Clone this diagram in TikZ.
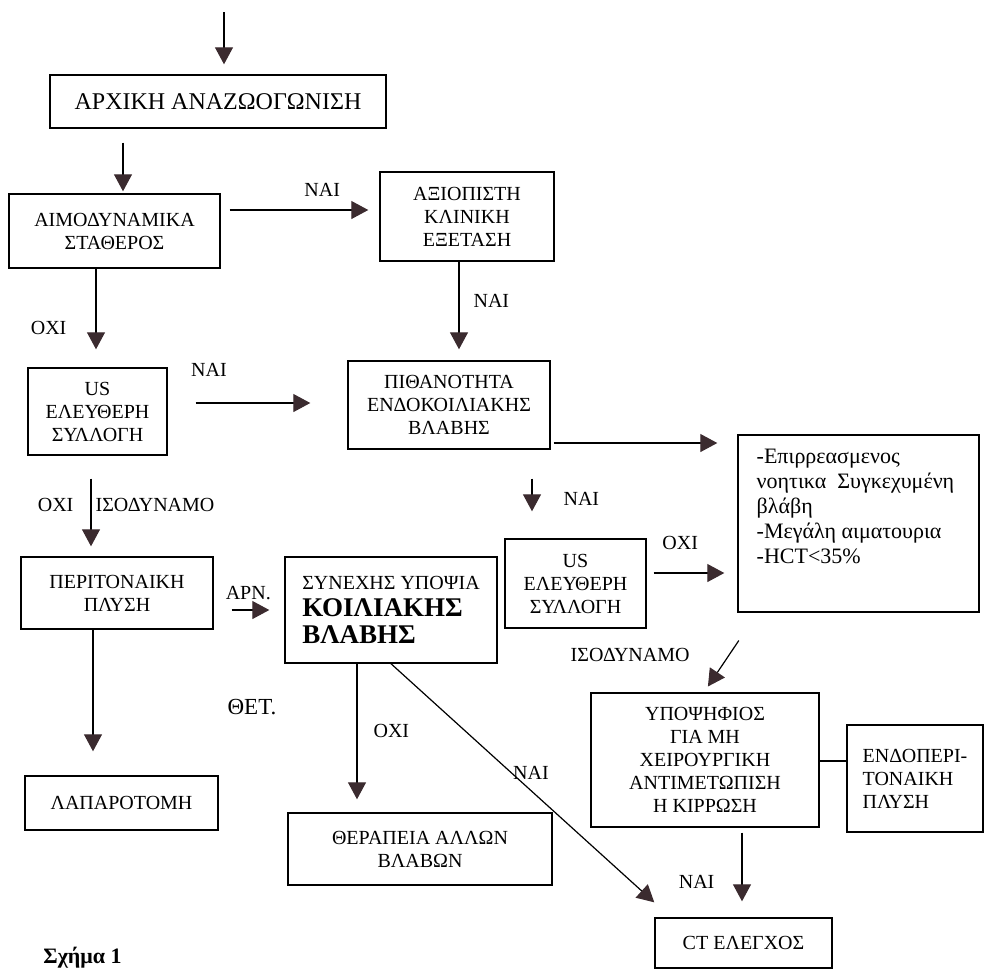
\documentclass[tikz,border=0pt]{standalone}
\usepackage{fontspec}
\setmainfont{Liberation Serif}
\usetikzlibrary{arrows.meta}
\definecolor{tipcol}{HTML}{3B2B2F}
\newcommand{\kbig}{\fontsize{13.5}{16}\selectfont\bfseries}

\begin{document}
\begin{tikzpicture}[
    x=0.5pt, y=-0.5pt,
    box/.style={draw, line width=0.7pt, align=center, inner sep=0pt,
        font=\fontsize{10}{11.5}\selectfont},
    lbl/.style={inner sep=0pt, font=\fontsize{10}{11.5}\selectfont},
    arr/.style={-{Triangle[length=8.5pt, width=9pt, color=tipcol]}, line width=0.6pt},
]
    \useasboundingbox (0,0) rectangle (984,971);

    % 1. left column boxes
    \node[box, minimum width=168pt, minimum height=26.5pt, font=\fontsize{12}{13.5}\selectfont] (init) at (218,101.5) {ΑΡΧΙΚΗ ΑΝΑΖΩΟΓΩΝΙΣΗ};
    \node[box, minimum width=105.5pt, minimum height=37pt] (aimo) at (114.5,231) {ΑΙΜΟΔΥΝΑΜΙΚΑ\\ΣΤΑΘΕΡΟΣ};
    \node[box, minimum width=69.5pt, minimum height=43.5pt] (usL) at (97.5,411.5) {US\\ΕΛΕΥΘΕΡΗ\\ΣΥΛΛΟΓΗ};
    \node[box, minimum width=96pt, minimum height=36pt] (perit) at (117,593) {ΠΕΡΙΤΟΝΑΙΚΗ\\ΠΛΥΣΗ};
    \node[box, minimum width=96.5pt, minimum height=27pt] (lapar) at (121.5,803) {ΛΑΠΑΡΟΤΟΜΗ};

    % 2. middle column boxes
    \node[box, minimum width=87pt, minimum height=44.5pt] (axiop) at (467,216.5) {ΑΞΙΟΠΙΣΤΗ\\ΚΛΙΝΙΚΗ\\ΕΞΕΤΑΣΗ};
    \node[box, minimum width=101pt, minimum height=44pt] (pithan) at (449,405) {ΠΙΘΑΝΟΤΗΤΑ\\ΕΝΔΟΚΟΙΛΙΑΚΗΣ\\ΒΛΑΒΗΣ};
    \node[box, align=left, minimum width=106pt, minimum height=53pt] (synex) at (391,610) {ΣΥΝΕΧΗΣ ΥΠΟΨΙΑ\\[2pt]{\kbig ΚΟΙΛΙΑΚΗΣ}\\[2pt]{\kbig ΒΛΑΒΗΣ}};
    \node[box, minimum width=132pt, minimum height=36pt] (therap) at (420,849) {ΘΕΡΑΠΕΙΑ ΑΛΛΩΝ\\ΒΛΑΒΩΝ};
    \node[box, minimum width=70.5pt, minimum height=44.5pt] (usM) at (575.5,583.5) {US\\ΕΛΕΥΘΕΡΗ\\ΣΥΛΛΟΓΗ};

    % 3. right column boxes
    \node[box, minimum width=120.5pt, minimum height=88.5pt] (risk) at (858.5,523.5) {};
    \node[anchor=north west, align=left, inner sep=0pt, font=\fontsize{11}{12.6}\selectfont] (risktxt)
        at ([xshift=9.5pt, yshift=-7pt]risk.north west)
        {-Επιρρεασμενος\\νοητικα\ \ Συγκεχυμένη\\βλάβη\\-Μεγάλη αιματουρια\\-HCT<35\%};
    \node[box, minimum width=114pt, minimum height=67pt] (ypops) at (705,760) {ΥΠΟΨΗΦΙΟΣ\\ΓΙΑ ΜΗ\\ΧΕΙΡΟΥΡΓΙΚΗ\\ΑΝΤΙΜΕΤΩΠΙΣΗ\\Η ΚΙΡΡΩΣΗ};
    \node[box, align=left, minimum width=68pt, minimum height=53.5pt] (endop) at (915,778.5) {ΕΝΔΟΠΕΡΙ-\\ΤΟΝΑΙΚΗ\\ΠΛΥΣΗ};
    \node[box, minimum width=88.5pt, minimum height=25pt] (ct) at (743.5,943) {CT ΕΛΕΓΧΟΣ};

    % 4. caption
    \node[anchor=west, inner sep=0pt, font=\fontsize{11}{13}\selectfont\bfseries] (fig) at (43,958) {Σχήμα 1};

    % 5. arrows, left part
    \coordinate (in) at (224,12);
    \draw[arr, shorten >=5pt] (in) -- (in |- init.north);
    \draw[arr, shorten <=7pt, shorten >=1pt] ([xshift=-47.5pt]init.south) -- ([xshift=4.25pt]aimo.north);
    \draw[arr, shorten <=4.5pt, shorten >=5.5pt] ([yshift=10.5pt]aimo.east) -- ([yshift=3.25pt]axiop.west)
        node[lbl, pos=0.64, above=6.5pt] {ΝΑΙ};
    \draw[arr, shorten >=9pt] ([xshift=-9.25pt]aimo.south) -- ([xshift=-0.75pt]usL.north)
        node[lbl, pos=0.6, left=14.5pt] {ΟΧΙ};
    \draw[arr, shorten <=14pt, shorten >=18.5pt] ([yshift=4.25pt]usL.east) -- ([yshift=1pt]pithan.west)
        node[lbl, pos=0.23, above=13pt] {ΝΑΙ};
    \draw[arr, shorten <=11.5pt, shorten >=5pt] ([xshift=-3.25pt]usL.south) -- ([xshift=-13pt]perit.north)
        node[lbl, pos=0.49, left=8.5pt] {ΟΧΙ}
        node[lbl, pos=0.49, right=2pt] {ΙΣΟΔΥΝΑΜΟ};
    \draw[arr, shorten >=12pt] ([xshift=-12pt]perit.south) -- ([xshift=-14.25pt]lapar.north)
        node[lbl, pos=0.53, right=67pt, font=\fontsize{11.5}{13}\selectfont] {ΘΕΤ.};
    \draw[arr, shorten <=9pt, shorten >=7.5pt] ([yshift=-8.5pt]perit.east) -- (synex.west)
        node[lbl, pos=0.49, above=5pt] {ΑΡΝ.};

    % 6. arrows, middle part
    \draw[arr, shorten >=5.5pt] ([xshift=-4pt]axiop.south) -- ([xshift=5pt]pithan.north)
        node[lbl, pos=0.4, right=7pt] {ΝΑΙ};
    \draw[arr, shorten <=1.5pt, shorten >=10pt] ([yshift=-19pt]pithan.east) -- ([yshift=40.25pt]risk.west);
    \draw[arr, shorten <=14.5pt, shorten >=13.5pt] ([xshift=41.5pt]pithan.south) -- ([xshift=-21.75pt]usM.north)
        node[lbl, pos=0.56, right=15.5pt] {ΝΑΙ};
    \draw[arr, shorten <=3.5pt, shorten >=6.5pt] ([yshift=5.25pt]usM.east) -- ([yshift=-24.75pt]risk.west)
        node[lbl, pos=0.37, above=11.5pt] {ΟΧΙ};
    \draw[arr, shorten >=6.5pt] ([xshift=-17pt]synex.south) -- ([xshift=-31.5pt]therap.north)
        node[lbl, pos=0.45, right=8pt] {ΟΧΙ};
    \draw[arr, shorten >=11.15pt] (synex.south) -- ([xshift=8.25pt]ct.north west)
        node[lbl, pos=0.5, yshift=9pt] {ΝΑΙ};

    % 7. arrows, right part
    \draw[arr, shorten <=16.75pt, shorten >=3.5pt] ([xshift=-50.5pt]risk.south) -- ([xshift=-0.5pt]ypops.north)
        node[lbl, pos=0.53, left=19.5pt] {ΙΣΟΔΥΝΑΜΟ};
    \draw[line width=0.6pt] ([yshift=-0.5pt]ypops.east) -- ([yshift=8.75pt]endop.west);
    \draw[arr, shorten <=2.5pt, shorten >=8pt] ([xshift=18.5pt]ypops.south) -- ([xshift=-0.75pt]ct.north)
        node[lbl, pos=0.6, left=13.5pt] {ΝΑΙ};

\end{tikzpicture}
\end{document}
